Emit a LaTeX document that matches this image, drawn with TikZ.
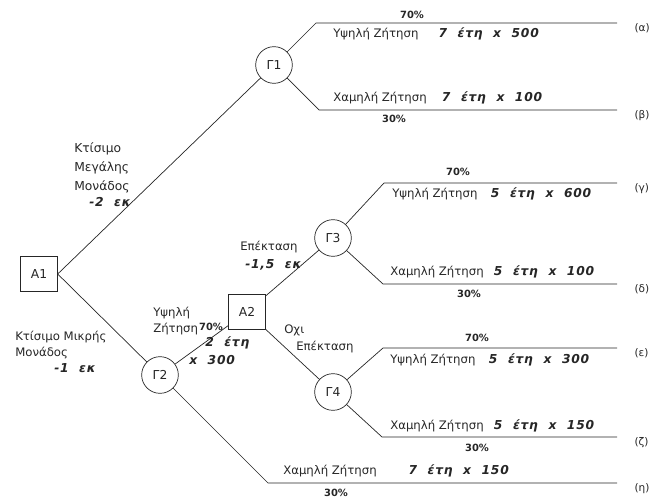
\documentclass[tikz,border=0pt]{standalone}
\usepackage{fontspec}
\setmainfont{DejaVu Sans}
\newfontfamily\durfont[LetterSpace=6, WordSpace=2.1]{DejaVu Sans}
\usetikzlibrary{positioning}

\begin{document}
\begin{tikzpicture}[x=0.3mm, y=-0.3mm, line width=0.6pt, draw=black!85,
    every node/.style={text=black!85, font=\fontsize{10}{14}\selectfont},
    decbox/.style={draw, minimum width=11mm, minimum height=10.5mm, inner sep=0pt,
        font=\fontsize{10.5}{12}\selectfont},
    chance/.style={draw, circle, minimum size=11mm, inner sep=0pt,
        font=\fontsize{10.5}{12}\selectfont},
    prob/.style={font=\fontsize{8.5}{10}\selectfont\bfseries},
    dur/.style={anchor=west, font=\durfont\fontsize{10.5}{12}\selectfont\bfseries\itshape},
    txt/.style={anchor=west},
    endlbl/.style={right=4mm of #1, yshift=-1.6mm, font=\fontsize{9}{10}\selectfont}]
    \useasboundingbox (0,0) rectangle (657,501);

    % Decision and chance nodes
    \node[decbox] (A1) at (39,274) {A1};
    \node[chance] (G1) at (274,65) {Γ1};
    \node[chance] (G2) at (160,375) {Γ2};
    \node[decbox] (A2) at (247,312) {A2};
    \node[chance] (G3) at (333,238) {Γ3};
    \node[chance] (G4) at (333,392) {Γ4};

    % Branch knees and line ends
    \coordinate (ka) at (316,23);  \coordinate (ea) at (617,23);
    \coordinate (kb) at (319,110); \coordinate (eb) at (617,110);
    \coordinate (kc) at (384,183); \coordinate (ec) at (617,183);
    \coordinate (kd) at (383,284); \coordinate (ed) at (617,284);
    \coordinate (ke) at (383,348); \coordinate (ee) at (617,348);
    \coordinate (kz) at (382,437); \coordinate (ez) at (617,437);
    \coordinate (kh) at (268,483); \coordinate (eh) at (617,483);

    % Tree
    \draw (A1.east) -- (G1);
    \draw (A1.east) -- (G2);
    \draw (G2) -- (A2);
    \draw (A2) -- (G3);
    \draw (A2) -- (G4);
    \draw (G1) -- (ka) -- (ea);
    \draw (G1) -- (kb) -- (eb);
    \draw (G3) -- (kc) -- (ec);
    \draw (G3) -- (kd) -- (ed);
    \draw (G4) -- (ke) -- (ee);
    \draw (G4) -- (kz) -- (ez);
    \draw (G2) -- (kh) -- (eh);

    % Outcome labels
    \node[endlbl=ea] (la) {(α)};
    \node[endlbl=eb] (lb) {(β)};
    \node[endlbl=ec] (lc) {(γ)};
    \node[endlbl=ed] (ld) {(δ)};
    \node[endlbl=ee] (le) {(ε)};
    \node[endlbl=ez] (lz) {(ζ)};
    \node[endlbl=eh] (lh) {(η)};

    % Decisions at A1
    \node[txt, align=left, font=\fontsize{10.5}{16}\selectfont] (big) at (70,168) {Κτίσιμο\\Μεγάλης\\Μονάδος};
    \node[dur] (bigc) at (85,202) {-2 εκ};
    \node[txt, align=left] (small) at (11,345) {Κτίσιμο Μικρής\\Μονάδος};
    \node[dur] (smallc) at (50,368) {-1 εκ};

    % -- first two years after the small unit
    \node[txt, align=left] (g2hi) at (149,321) {Υψηλή\\Ζήτηση};
    \node[prob] (g2p) at (211,327) {70\%};
    \node[dur] (g2y) at (201,343) {2 έτη};
    \node[dur] (g2v) at (185,360) {x 300};

    % Decisions at A2
    \node[txt] (ext) at (236,247) {Επέκταση};
    \node[dur] (extc) at (241,265) {-1,5 εκ};
    \node[txt] (noext1) at (280,330) {Οχι};
    \node[txt] (noext2) at (292,347) {Επέκταση};

    % Branch texts
    % -- Γ1
    \node[prob] (pa) at (412,15) {70\%};
    \node[txt] (da) at (329,34) {Υψηλή Ζήτηση};
    \node[dur, right=3.5mm of da] (va) {7 έτη x 500};
    \node[txt] (db) at (329,98) {Χαμηλή Ζήτηση};
    \node[dur, right=2mm of db] (vb) {7 έτη x 100};
    \node[prob] (pb) at (394,119) {30\%};

    % -- Γ3
    \node[prob] (pc) at (458,172) {70\%};
    \node[txt] (dc) at (388,194) {Υψηλή Ζήτηση};
    \node[dur, right=1.5mm of dc] (vc) {5 έτη x 600};
    \node[txt] (dd) at (386,272) {Χαμηλή Ζήτηση};
    \node[dur, right=0.5mm of dd] (vd) {5 έτη x 100};
    \node[prob] (pd) at (469,294) {30\%};

    % -- Γ4
    \node[prob] (pe) at (477,338) {70\%};
    \node[txt] (de) at (386,360) {Υψηλή Ζήτηση};
    \node[dur, right=1.5mm of de] (ve) {5 έτη x 300};
    \node[txt] (dz) at (386,426) {Χαμηλή Ζήτηση};
    \node[dur, right=0.5mm of dz] (vz) {5 έτη x 150};
    \node[prob] (pz) at (477,448) {30\%};

    % -- Γ2, low demand
    \node[txt] (dh) at (279,471) {Χαμηλή Ζήτηση};
    \node[dur, right=7mm of dh] (vh) {7 έτη x 150};
    \node[prob] (ph) at (336,493) {30\%};
\end{tikzpicture}
\end{document}
